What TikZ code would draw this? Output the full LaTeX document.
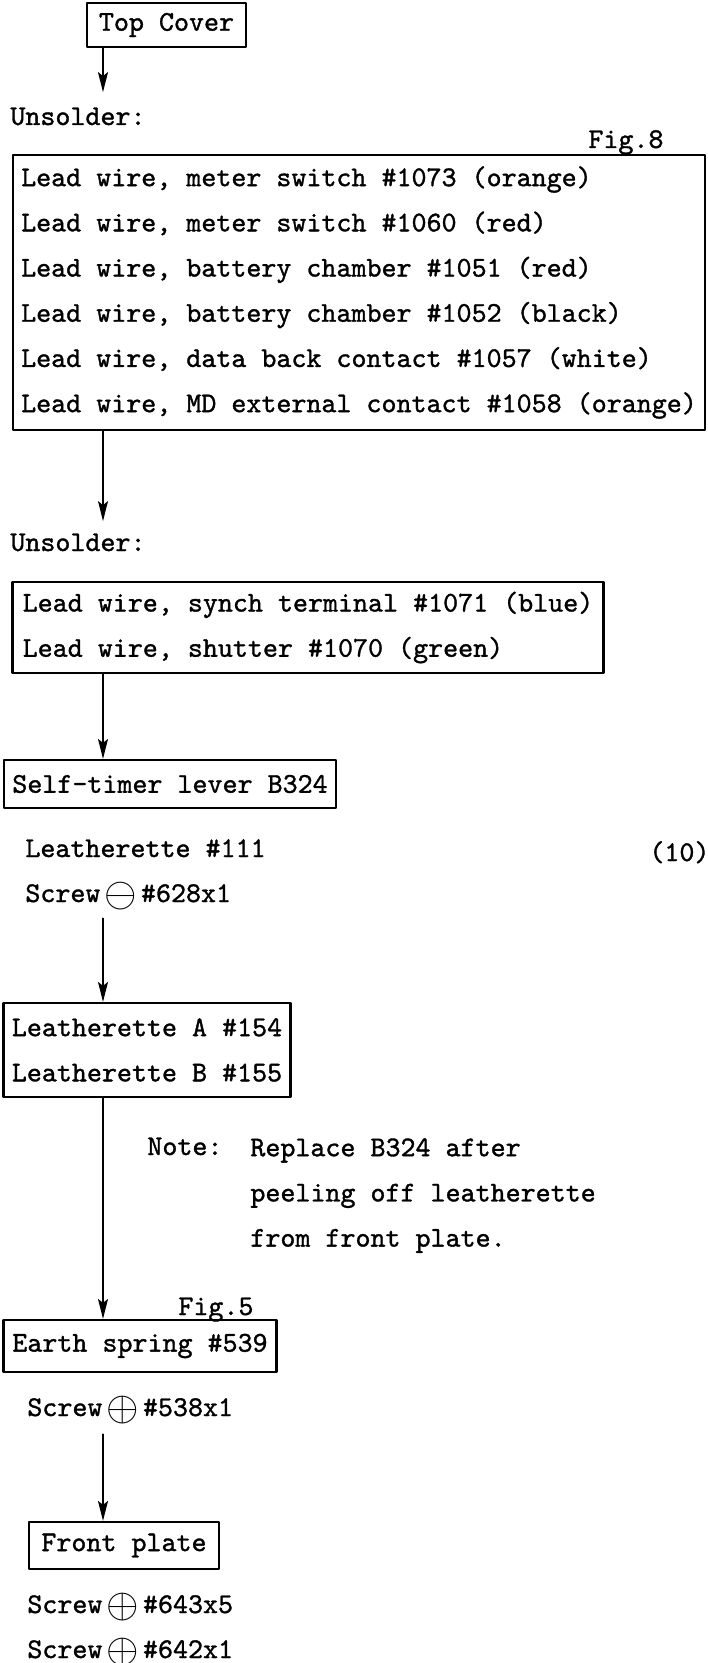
\documentclass[tikz,border=0pt]{standalone}
\usepackage{fontspec}
\usetikzlibrary{arrows.meta}

\newfontfamily\typewriter{lmmono10-regular.otf}[FakeBold=1.2]
\newcommand{\screwmark}[1]{\raisebox{-0.35ex}{\scalebox{1.45}{$#1$}}}

\begin{document}
\begin{tikzpicture}[x=0.5pt,y=-0.5pt,line cap=round,line join=round,
    font=\fontsize{14.3pt}{22.6pt}\selectfont\typewriter,
    partbox/.style={draw,line width=1.1pt,inner sep=0pt,align=left},
    plain/.style={inner sep=0pt,anchor=base west},
    feed/.style={-{Stealth[length=10pt,width=5pt,inset=2pt]},line width=0.6pt}]

    \useasboundingbox (0,0) rectangle (707,1663);

    % Columna de las flechas
    \coordinate (spine) at (103,0);

    % Cajas y textos
    \node[partbox,minimum width=79.5pt,minimum height=22pt] (cover) at (166.5,25) {Top Cover};
    \node[plain] (unsolderA) at (10,125) {Unsolder:};
    \node[plain] (figeight) at (588,148) {Fig.8};
    \node[partbox,minimum width=346pt,minimum height=137.5pt] (wiresA) at (359,292.5)
        {Lead wire, meter switch \#1073 (orange)\\
         Lead wire, meter switch \#1060 (red)\\
         Lead wire, battery chamber \#1051 (red)\\
         Lead wire, battery chamber \#1052 (black)\\
         Lead wire, data back contact \#1057 (white)\\
         Lead wire, MD external contact \#1058 (orange)};

    \node[plain] (unsolderB) at (10,551) {Unsolder:};
    \node[partbox,minimum width=295.5pt,minimum height=45.5pt] (wiresB) at (308,627.5)
        {Lead wire, synch terminal \#1071 (blue)\\
         Lead wire, shutter \#1070 (green)};

    \node[partbox,minimum width=166pt,minimum height=24pt] (timer) at (170,784) {Self-timer lever B324};
    \node[plain] (leatherA) at (25,857) {Leatherette \#111};
    \node[plain] (pagenum) at (649,861) {(10)};
    \node[plain] (screwA) at (25,902) {Screw\hspace{2pt}\screwmark{\ominus}\hspace{2pt}\#628x1};

    \node[partbox,minimum width=143.5pt,minimum height=47pt] (leather) at (147,1050)
        {Leatherette A \#154\\
         Leatherette B \#155};

    \node[plain] (notehead) at (147,1155) {Note:};
    \node[inner sep=0pt,anchor=north west,align=left] (notebody) at (250,1138)
        {Replace B324 after\\
         peeling off leatherette\\
         from front plate.};

    \node[plain] (figfive) at (178,1315) {Fig.5};
    \node[partbox,minimum width=136.5pt,minimum height=26pt] (earth) at (140,1346) {Earth spring \#539};
    \node[plain] (screwB) at (27,1416) {Screw\hspace{2pt}\screwmark{\oplus}\hspace{2pt}\#538x1};

    \node[partbox,minimum width=95pt,minimum height=23.5pt] (front) at (124,1545.5) {Front plate};
    \node[plain] (screwC) at (27,1613) {Screw\hspace{2pt}\screwmark{\oplus}\hspace{2pt}\#643x5};
    \node[plain] (screwD) at (27,1658) {Screw\hspace{2pt}\screwmark{\oplus}\hspace{2pt}\#642x1};

    % Flechas
    \draw[feed,line width=1.2pt,shorten >=7.5pt] (cover.south -| spine) -- (spine |- unsolderA.north);
    \draw[feed,shorten >=6pt] (wiresA.south -| spine) -- (spine |- unsolderB.north);
    \draw[feed] (wiresB.south -| spine) -- (spine |- timer.north);
    \draw[feed,shorten <=4pt] (screwA.south -| spine) -- (spine |- leather.north);
    \draw[feed] (leather.south -| spine) -- (spine |- earth.north);
    \draw[feed,line width=0.8pt,shorten <=5pt] (screwB.south -| spine) -- (spine |- front.north);
\end{tikzpicture}
\end{document}
